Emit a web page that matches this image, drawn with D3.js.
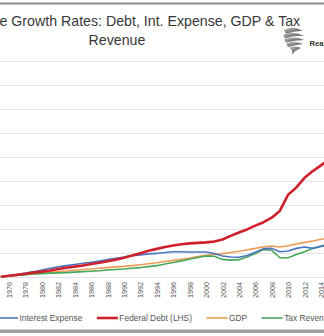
<!DOCTYPE html>
<html>
<head>
<meta charset="utf-8">
<script src="https://cdn.jsdelivr.net/npm/d3@7"></script>
<style>
  body { margin: 0; background: #fff; }
  svg { display: block; font-family: "Liberation Sans", Arial, sans-serif; }
</style>
</head>
<body>
<div id="chart"></div>
<script>
// années (données annuelles)
const years = d3.range(1975, 2016)

// séries, même unité (indice de croissance), une valeur par année
const federalDebt = [0, 4, 8, 12, 17, 21, 26, 32, 37, 42, 47, 53, 58, 64, 71, 79, 88, 98, 108, 116,
  124, 130, 135, 139, 141, 143, 147, 155, 170, 184, 197, 213, 227, 246, 275, 342, 372, 412, 440, 464, 490]
const interestExpense = [0, 4, 9, 15, 21, 28, 35, 41, 46, 51, 56, 60, 65, 71, 77, 82, 88, 91, 95, 97,
  101, 104, 104, 103, 103, 103, 97, 86, 82, 81, 88, 102, 117, 118, 104, 107, 118, 124, 118, 126, 132]
const gdp = [0, 3, 6, 9, 12, 15, 18, 21, 24, 27, 30, 32, 35, 38, 41, 43, 46, 50, 54, 58,
  63, 68, 73, 78, 84, 89, 93, 96, 101, 106, 112, 118, 125, 128, 124, 129, 136, 143, 149, 156, 162]
const taxRevenue = [0, 2, 5, 8, 11, 13, 15, 16, 17, 19, 21, 23, 25, 28, 30, 32, 35, 38, 42, 46,
  53, 59, 66, 73, 80, 86, 85, 72, 69, 71, 82, 97, 113, 110, 79, 79, 92, 104, 118, 128, 135]

const tickYears = d3.range(1976, 2016, 2)
const gridValues = d3.range(0, 1000, 100)

const titleLine1 = "e Growth Rates: Debt, Int. Expense, GDP & Tax"
const titleLine2 = "Revenue"

const series = [
  { name: "Interest Expense", values: interestExpense, color: "#4a74c0", width: 1.6 },
  { name: "Federal Debt (LHS)", values: federalDebt, color: "#cf1f2b", width: 2.6 },
  { name: "GDP", values: gdp, color: "#ee9a55", width: 1.6 },
  { name: "Tax Revenue", values: taxRevenue, color: "#45a85a", width: 1.6 }
]

const W = 324, H = 336

const svg = d3.select("#chart").append("svg")
  .attr("width", W)
  .attr("height", H)

// cadre gris haut et bas
svg.append("rect").attr("x", 0).attr("y", 2.5).attr("width", W).attr("height", 2).attr("fill", "#8a8a8a")
svg.append("rect").attr("x", 0).attr("y", 329.5).attr("width", W).attr("height", 3.5).attr("fill", "#a0a0a0")

// titre
const title = svg.append("g").attr("fill", "#383838").attr("font-size", 14.2)
title.append("text").attr("x", -0.5).attr("y", 26).text(titleLine1)
title.append("text").attr("x", 117).attr("y", 45).attr("text-anchor", "middle").text(titleLine2)

// petit logo
const logo = svg.append("g").attr("transform", "translate(283,27)")
const grad = svg.append("defs").append("linearGradient").attr("id", "lg")
  .attr("x1", 0).attr("y1", 0).attr("x2", 1).attr("y2", 1)
grad.append("stop").attr("offset", 0).attr("stop-color", "#c4c4c4")
grad.append("stop").attr("offset", 1).attr("stop-color", "#3a3a3a")
const feathers = [
  "M1,3 Q10,-2 20,4 Q12,3.5 3,7 Z",
  "M0,8 Q10,3 21,9 Q12,8 2,11.5 Z",
  "M1,12.5 Q11,8.5 21,13 Q12,13 3,15.5 Z",
  "M3,16.5 Q12,13.5 20,17 Q12,18 5,20 Z",
  "M6,20.5 Q13,18.5 18,21 Q13,23 9,27.5 Q10,23 6,20.5 Z"
]
logo.selectAll("path").data(feathers).join("path")
  .attr("d", d => d)
  .attr("fill", "url(#lg)")
svg.append("text").attr("x", 309.5).attr("y", 46).attr("font-size", 7.6).attr("font-weight", "bold")
  .attr("fill", "#333").text("Real")

// échelles
const x = d3.scaleLinear().domain([1976, 2014]).range([9, 321])
const y = d3.scaleLinear().domain([0, 900]).range([276.7, 60.7])

// quadrillage
svg.append("g")
  .selectAll("line")
  .data(gridValues)
  .join("line")
  .attr("x1", 0).attr("x2", W)
  .attr("y1", d => Math.round(y(d)) + 0.5)
  .attr("y2", d => Math.round(y(d)) + 0.5)
  .attr("stroke", "#e4e4e4")
  .attr("stroke-width", 1)

// axe des années (étiquettes verticales)
const xAxis = svg.append("g")
  .attr("transform", "translate(0,280)")
  .call(d3.axisBottom(x).tickValues(tickYears).tickFormat(d3.format("d")).tickSize(0))
xAxis.select(".domain").remove()
xAxis.selectAll("text")
  .attr("transform", "rotate(-90)")
  .attr("x", -2)
  .attr("y", 0)
  .attr("dy", "0.35em")
  .attr("text-anchor", "end")
  .attr("fill", "#555")
  .attr("font-size", 7.2)
  .attr("font-family", "'Liberation Sans Narrow', 'Liberation Sans', sans-serif")

// courbes
const line = d3.line()
  .x((d, i) => x(years[i]))
  .y(d => y(d))

// ordre de dessin: la dette (rouge) au-dessus
const drawOrder = [2, 3, 0, 1]
svg.append("g")
  .selectAll("path")
  .data(drawOrder.map(i => series[i]))
  .join("path")
  .attr("d", d => line(d.values))
  .attr("fill", "none")
  .attr("stroke", d => d.color)
  .attr("stroke-width", d => d.width)
  .attr("stroke-linejoin", "round")

// légende
const legend = svg.append("g").attr("font-size", 8.4).attr("fill", "#555")
let lx = -3
series.forEach(s => {
  legend.append("line")
    .attr("x1", lx).attr("x2", lx + 21)
    .attr("y1", 318).attr("y2", 318)
    .attr("stroke", s.color)
    .attr("stroke-width", s.width)
  const t = legend.append("text")
    .attr("x", lx + 22.5)
    .attr("y", 321)
    .text(s.name)
  lx += 22.5 + t.node().getComputedTextLength() + 14.5
})
</script>
</body>
</html>
